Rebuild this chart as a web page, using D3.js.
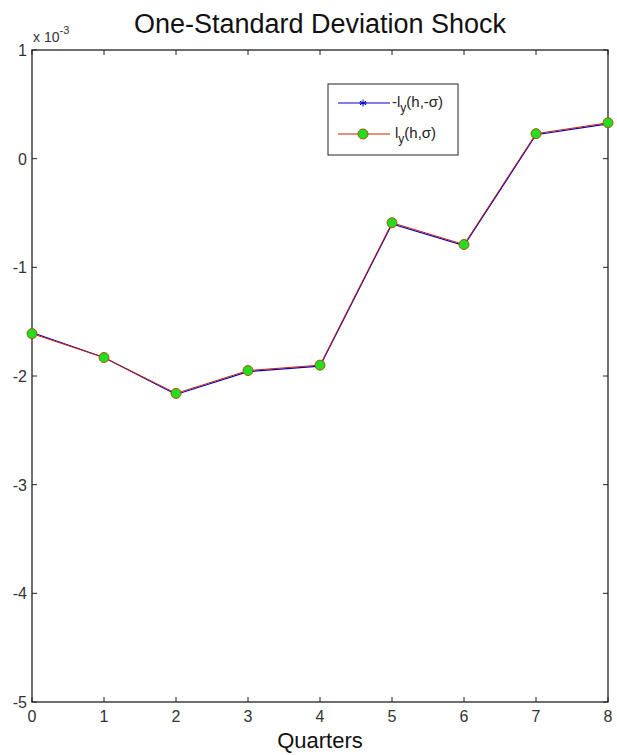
<!DOCTYPE html>
<html>
<head>
<meta charset="utf-8">
<script src="https://cdn.jsdelivr.net/npm/d3@7"></script>
<style>
  body { margin: 0; background: #fff; }
  text { font-family: "Liberation Sans", Arial, sans-serif; }
</style>
</head>
<body>
<svg id="chart" width="617" height="755"></svg>
<script>
// quarters and responses (x 10^-3)
var quarters = [0, 1, 2, 3, 4, 5, 6, 7, 8];
var negShock = [-1.60, -1.83, -2.17, -1.96, -1.91, -0.60, -0.80, 0.22, 0.32];
var posShock = [-1.61, -1.83, -2.16, -1.95, -1.90, -0.59, -0.79, 0.23, 0.33];
var xTicks = [0, 1, 2, 3, 4, 5, 6, 7, 8];
var yTicks = [1, 0, -1, -2, -3, -4, -5];

var svg = d3.select("#chart"),
    margin = {top: 50, right: 9, bottom: 53, left: 32},
    width = +svg.attr("width") - margin.left - margin.right,
    height = +svg.attr("height") - margin.top - margin.bottom;

var x = d3.scaleLinear().domain([0, 8]).range([0, width]),
    y = d3.scaleLinear().domain([-5, 1]).range([height, 0]);

var g = svg.append("g")
    .attr("transform", "translate(" + margin.left + "," + margin.top + ")");

// box with inward ticks on all four sides
g.append("rect")
    .attr("width", width).attr("height", height)
    .attr("fill", "none").attr("stroke", "#222").attr("stroke-width", 1.3);

var tk = 5;
xTicks.forEach(function(t) {
    g.append("line").attr("x1", x(t)).attr("x2", x(t)).attr("y1", height).attr("y2", height - tk).attr("stroke", "#222");
    g.append("line").attr("x1", x(t)).attr("x2", x(t)).attr("y1", 0).attr("y2", tk).attr("stroke", "#222");
    g.append("text").attr("x", x(t)).attr("y", height + 20)
        .attr("text-anchor", "middle").attr("font-size", 16).attr("fill", "#333").text(t);
});
yTicks.forEach(function(t) {
    g.append("line").attr("x1", 0).attr("x2", tk).attr("y1", y(t)).attr("y2", y(t)).attr("stroke", "#222");
    g.append("line").attr("x1", width).attr("x2", width - tk).attr("y1", y(t)).attr("y2", y(t)).attr("stroke", "#222");
    g.append("text").attr("x", -5).attr("y", y(t) + 6)
        .attr("text-anchor", "end").attr("font-size", 16).attr("fill", "#333").text(t);
});

// exponent label
var ex = g.append("text").attr("x", 1).attr("y", -8).attr("font-size", 14).attr("fill", "#333");
ex.append("tspan").text("x 10");
ex.append("tspan").attr("dy", -8).attr("font-size", 11).text("-3");

var line = d3.line().x(function(d, i) { return x(quarters[i]); }).y(function(d) { return y(d); });

g.append("path").datum(negShock).attr("d", line)
    .attr("fill", "none").attr("stroke", "#0000cc").attr("stroke-width", 1.2);
g.append("path").datum(posShock).attr("d", line)
    .attr("fill", "none").attr("stroke", "#cc2200").attr("stroke-width", 1);

// asterisk markers of the blue series (mostly hidden under the circles)
function star(sel, cx, cy, r) {
    [0, 60, 120].forEach(function(a) {
        var rad = a * Math.PI / 180;
        sel.append("line")
            .attr("x1", cx - r * Math.sin(rad)).attr("y1", cy - r * Math.cos(rad))
            .attr("x2", cx + r * Math.sin(rad)).attr("y2", cy + r * Math.cos(rad))
            .attr("stroke", "#0000cc").attr("stroke-width", 1);
    });
    sel.append("line").attr("x1", cx - r).attr("x2", cx + r).attr("y1", cy).attr("y2", cy)
        .attr("stroke", "#0000cc").attr("stroke-width", 1);
}
negShock.forEach(function(d, i) { star(g, x(quarters[i]), y(d), 3.5); });

g.selectAll(".dot").data(posShock).enter().append("circle")
    .attr("cx", function(d, i) { return x(quarters[i]); })
    .attr("cy", function(d) { return y(d); })
    .attr("r", 5)
    .attr("fill", "#22dd22").attr("stroke", "#aa5500").attr("stroke-width", 1);

// legend
var lg = svg.append("g").attr("transform", "translate(328,84)");
lg.append("rect").attr("width", 130).attr("height", 71)
    .attr("fill", "#fff").attr("stroke", "#222").attr("stroke-width", 1);
lg.append("line").attr("x1", 10).attr("x2", 62).attr("y1", 19).attr("y2", 19).attr("stroke", "#0000cc");
star(lg, 35, 19, 3.5);
lg.append("line").attr("x1", 10).attr("x2", 62).attr("y1", 50).attr("y2", 50).attr("stroke", "#cc2200");
lg.append("circle").attr("cx", 35).attr("cy", 50).attr("r", 5)
    .attr("fill", "#22dd22").attr("stroke", "#aa5500");

var t1 = lg.append("text").attr("x", 64).attr("y", 23).attr("font-size", 15).attr("fill", "#222");
t1.append("tspan").text("-l");
t1.append("tspan").attr("dy", 5).attr("font-size", 12).text("y");
t1.append("tspan").attr("dy", -5).text("(h,-σ)");
var t2 = lg.append("text").attr("x", 67).attr("y", 54).attr("font-size", 15).attr("fill", "#222");
t2.append("tspan").text("l");
t2.append("tspan").attr("dy", 5).attr("font-size", 12).text("y");
t2.append("tspan").attr("dy", -5).text("(h,σ)");

// title and x label
svg.append("text").attr("x", 320).attr("y", 33).attr("text-anchor", "middle")
    .attr("font-size", 27).attr("fill", "#111").text("One-Standard Deviation Shock");
svg.append("text").attr("x", margin.left + width / 2).attr("y", 748).attr("text-anchor", "middle")
    .attr("font-size", 22).attr("fill", "#111").text("Quarters");
</script>
</body>
</html>
